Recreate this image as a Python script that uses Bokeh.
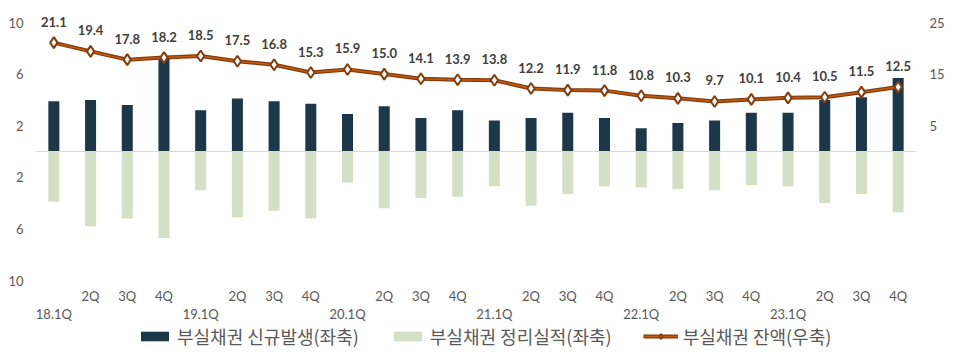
from bokeh.plotting import figure
from bokeh.models import (ColumnDataSource, Range1d, LinearAxis, FixedTicker, Span,
                          LabelSet, Legend, LegendItem, CustomJSTickFormatter)
from bokeh.core.properties import value
from bokeh.embed import file_html
from bokeh.resources import INLINE

quarters = ["18.1Q", "18.2Q", "18.3Q", "18.4Q", "19.1Q", "19.2Q", "19.3Q", "19.4Q",
            "20.1Q", "20.2Q", "20.3Q", "20.4Q", "21.1Q", "21.2Q", "21.3Q", "21.4Q",
            "22.1Q", "22.2Q", "22.3Q", "22.4Q", "23.1Q", "23.2Q", "23.3Q", "23.4Q"]
tick_labels = ["18.1Q", "2Q", "3Q", "4Q", "19.1Q", "2Q", "3Q", "4Q",
               "20.1Q", "2Q", "3Q", "4Q", "21.1Q", "2Q", "3Q", "4Q",
               "22.1Q", "2Q", "3Q", "4Q", "23.1Q", "2Q", "3Q", "4Q"]
new_npl = [3.9, 4.0, 3.6, 7.2, 3.2, 4.1, 3.9, 3.7,
           2.9, 3.5, 2.6, 3.2, 2.4, 2.6, 3.0, 2.6,
           1.8, 2.2, 2.4, 3.0, 3.0, 4.0, 4.2, 5.7]
resolved = [3.9, 5.8, 5.2, 6.7, 3.0, 5.1, 4.6, 5.2,
            2.4, 4.4, 3.6, 3.5, 2.7, 4.2, 3.3, 2.7,
            2.8, 2.9, 3.0, 2.6, 2.7, 4.0, 3.3, 4.7]
balance = [21.1, 19.4, 17.8, 18.2, 18.5, 17.5, 16.8, 15.3,
           15.9, 15.0, 14.1, 13.9, 13.8, 12.2, 11.9, 11.8,
           10.8, 10.3, 9.7, 10.1, 10.4, 10.5, 11.5, 12.5]
left_ticks = [-10, -6, -2, 2, 6, 10]
right_ticks = [5, 15, 25]
legend_labels = ["부실채권 신규발생(좌축)", "부실채권 정리실적(좌축)", "부실채권 잔액(우축)"]

DARK = "#1c3747"
GREEN = "#d5dfc5"
BROWN = "#843c0c"
ORANGE = "#c55a11"
GRAY = "#595959"
FONT = "Lato"

LEFT_MIN, LEFT_MAX = -10, 10
# the plot area extends beyond the value range to hold value labels,
# category labels and the legend
TOP_PAD = 22
AXIS_H = 258
BOTTOM_PAD = 73
unit = (LEFT_MAX - LEFT_MIN) / AXIS_H
top_ext = LEFT_MAX + TOP_PAD * unit
bottom_ext = LEFT_MIN - BOTTOM_PAD * unit
RIGHT_SCALE = 2.5

idx = list(range(len(quarters)))
src = ColumnDataSource(dict(
    x=idx,
    new=new_npl,
    res=[-v for v in resolved],
    bal=balance,
    bal_txt=[f"{v:.1f}" for v in balance],
))
q_ticks = [i for i in idx if i % 4 != 0]
y_ticks = [i for i in idx if i % 4 == 0]
src_q = ColumnDataSource(dict(x=q_ticks, y=[LEFT_MIN] * len(q_ticks),
                              t=[tick_labels[i] for i in q_ticks]))
src_y = ColumnDataSource(dict(x=y_ticks, y=[LEFT_MIN] * len(y_ticks),
                              t=[tick_labels[i] for i in y_ticks]))

p = figure(width=952, height=353, x_range=Range1d(-0.5, len(idx) - 0.5),
           y_range=Range1d(bottom_ext, top_ext), output_backend="svg", toolbar_location=None,
           x_axis_type=None, y_axis_type=None,
           min_border_left=35, min_border_right=36, min_border_top=0, min_border_bottom=0)
p.extra_y_ranges = {"right": Range1d(bottom_ext * RIGHT_SCALE, top_ext * RIGHT_SCALE)}
p.outline_line_color = None
p.xgrid.visible = False
p.ygrid.visible = False
p.background_fill_color = "white"
p.border_fill_color = "white"


def style(ax, standoff):
    ax.axis_line_color = None
    ax.major_tick_line_color = None
    ax.minor_tick_line_color = None
    ax.major_tick_out = 0
    ax.major_tick_in = 0
    ax.major_label_standoff = standoff
    ax.major_label_text_font = FONT
    ax.major_label_text_font_size = "13px"
    ax.major_label_text_color = GRAY


yl = LinearAxis(ticker=FixedTicker(ticks=left_ticks),
                formatter=CustomJSTickFormatter(code="return Math.abs(tick).toString();"))
style(yl, 12)
p.add_layout(yl, "left")

yr = LinearAxis(y_range_name="right", ticker=FixedTicker(ticks=right_ticks))
style(yr, 13)
p.add_layout(yr, "right")

r_res = p.vbar(x="x", top="res", bottom=0, width=0.3, source=src,
               fill_color=GREEN, line_color=None)
r_new = p.vbar(x="x", top="new", bottom=0, width=0.3, source=src,
               fill_color=DARK, line_color=None)

p.add_layout(Span(location=0, dimension="width", line_color="#d9d9d9", line_width=1))

r_l1 = p.line(x="x", y="bal", source=src, y_range_name="right",
              line_color=BROWN, line_width=4)
r_l2 = p.line(x="x", y="bal", source=src, y_range_name="right",
              line_color=ORANGE, line_width=1.5)
r_m = p.scatter(x="x", y="bal", source=src, y_range_name="right", marker="diamond",
                size=11, fill_color="white", line_color=BROWN, line_width=2)

labels = LabelSet(x="x", y="bal", text="bal_txt", source=src, y_range_name="right",
                  y_offset=16, text_align="center", text_baseline="bottom",
                  text_font=value(FONT), text_font_style="bold", text_font_size="13px",
                  text_color="#404040")
p.add_layout(labels)

for s, off in ((src_q, -15), (src_y, -33)):
    p.add_layout(LabelSet(x="x", y="y", text="t", source=s, y_offset=off,
                          text_align="center", text_baseline="middle",
                          text_font=value(FONT), text_font_size="13px", text_color=GRAY))

legend = Legend(items=[LegendItem(label=legend_labels[0], renderers=[r_new]),
                       LegendItem(label=legend_labels[1], renderers=[r_res]),
                       LegendItem(label=legend_labels[2], renderers=[r_l1, r_l2, r_m])],
                location=(102, 4), orientation="horizontal",
                label_text_font="Noto Sans CJK KR", label_text_font_size="18px",
                label_text_color=GRAY, glyph_width=35, glyph_height=12,
                label_height=12, label_standoff=5, spacing=31, padding=0, margin=0,
                border_line_color=None, background_fill_alpha=0)
p.add_layout(legend)

open("out.html", "w").write(file_html(p, INLINE))
